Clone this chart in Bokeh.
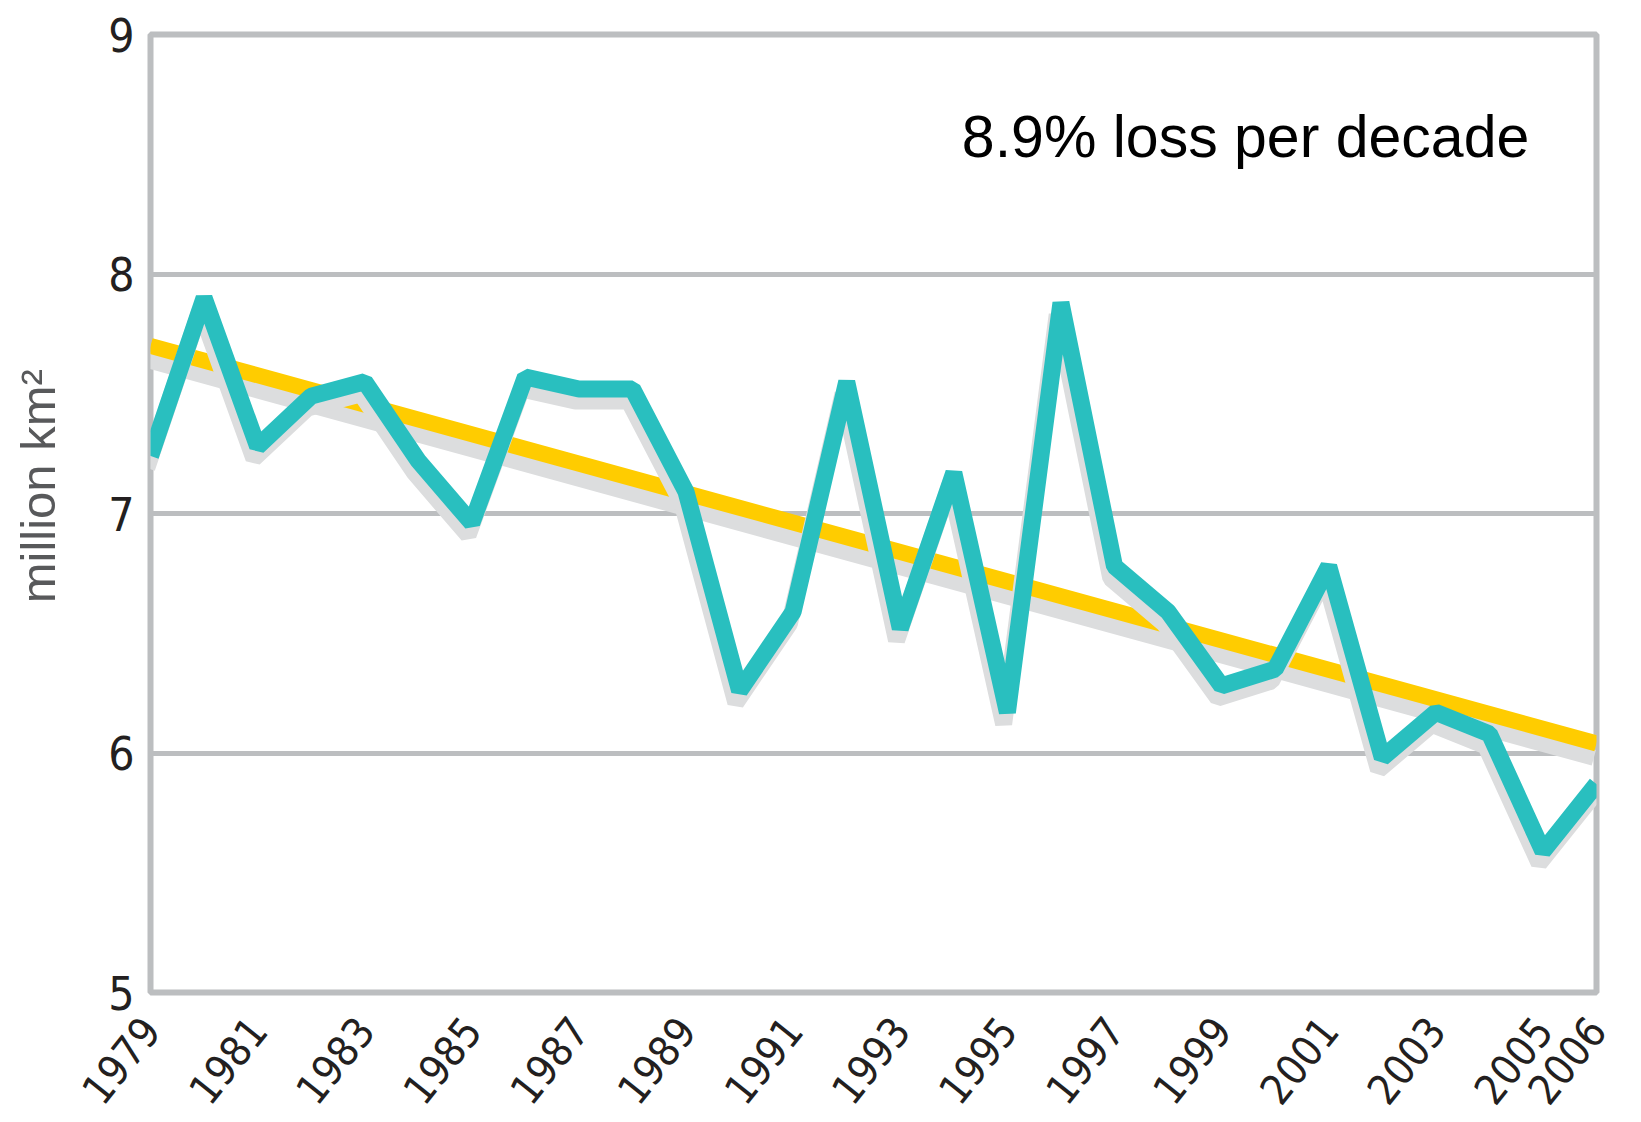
from bokeh.plotting import figure
from bokeh.models import FixedTicker, Label, Range1d
from bokeh.embed import file_html
from bokeh.resources import INLINE

# ---- data ----
years = list(range(1979, 2007))
extent = [7.24, 7.90, 7.28, 7.49, 7.55, 7.22, 6.96, 7.57, 7.52, 7.52,
          7.09, 6.26, 6.59, 7.55, 6.52, 7.17, 6.17, 7.88, 6.78, 6.59,
          6.28, 6.35, 6.78, 5.98, 6.17, 6.08, 5.59, 5.87]
trend_years = [1979, 2006]
trend_values = [7.70, 6.04]
y_ticks = [5, 6, 7, 8, 9]
x_ticks = [1979, 1981, 1983, 1985, 1987, 1989, 1991, 1993, 1995, 1997,
           1999, 2001, 2003, 2005, 2006]
annotation = "8.9% loss per decade"
annotation_pos = (1994.15, 8.57)
y_label = "\u00a0\u00a0\u00a0\u00a0million km²"

# ---- styles ----
TEAL = "#29bfbf"
YELLOW = "#ffcc00"
FRAME = "#bcbec0"
SHADOW = "#dcddde"
TICK_FONT = "'DejaVu Sans Condensed', 'Liberation Sans Narrow', 'Roboto Condensed', Roboto"

W, H = 1636, 1122
p = figure(width=W, height=H, output_backend="svg", toolbar_location=None,
           x_range=Range1d(1979, 2006), y_range=Range1d(5, 9),
           min_border_left=150, min_border_right=W - 1596, min_border_top=34,
           min_border_bottom=H - 992)
p.background_fill_color = "white"
p.border_fill_color = "white"
p.outline_line_color = FRAME
p.outline_line_width = 6

p.xgrid.visible = False
p.ygrid.grid_line_color = FRAME
p.ygrid.grid_line_width = 5
p.ygrid.ticker = FixedTicker(ticks=y_ticks)

# shadows and lines
p.line([x - 0.05 for x in trend_years], [v - 0.06 for v in trend_values],
       line_color=SHADOW, line_width=16)
p.line(trend_years, trend_values, line_color=YELLOW, line_width=16)
p.line([x - 0.07 for x in years], [v - 0.05 for v in extent],
       line_color=SHADOW, line_width=17, line_join="bevel")
p.line(years, extent, line_color=TEAL, line_width=17, line_join="bevel")

# axes
p.yaxis.ticker = FixedTicker(ticks=y_ticks)
p.xaxis.ticker = FixedTicker(ticks=x_ticks)
for ax in (p.xaxis[0], p.yaxis[0]):
    ax.axis_line_color = None
    ax.major_tick_line_color = None
    ax.minor_tick_line_color = None
    ax.major_tick_out = 0
    ax.major_tick_in = 0
    ax.minor_tick_out = 0
    ax.minor_tick_in = 0
    ax.major_label_text_font = TICK_FONT
    ax.major_label_text_color = "#231f20"
p.yaxis.major_label_text_font_size = "46px"
p.xaxis.major_label_text_font_size = "42px"
p.xaxis.major_label_text_line_height = 0.1
p.yaxis.major_label_standoff = 16
p.xaxis.major_label_standoff = 30
p.xaxis.major_label_orientation = 0.9

p.yaxis.axis_label = y_label
p.yaxis.axis_label_text_font = "Liberation Sans"
p.yaxis.axis_label_text_font_style = "normal"
p.yaxis.axis_label_text_font_size = "49px"
p.yaxis.axis_label_text_color = "#58595b"
p.yaxis.axis_label_standoff = 40

p.add_layout(Label(x=annotation_pos[0], y=annotation_pos[1],
                   text=annotation, text_font="Liberation Sans",
                   text_font_size="59px", text_color="black",
                   text_baseline="alphabetic"))

open("out.html", "w").write(file_html(p, INLINE))
